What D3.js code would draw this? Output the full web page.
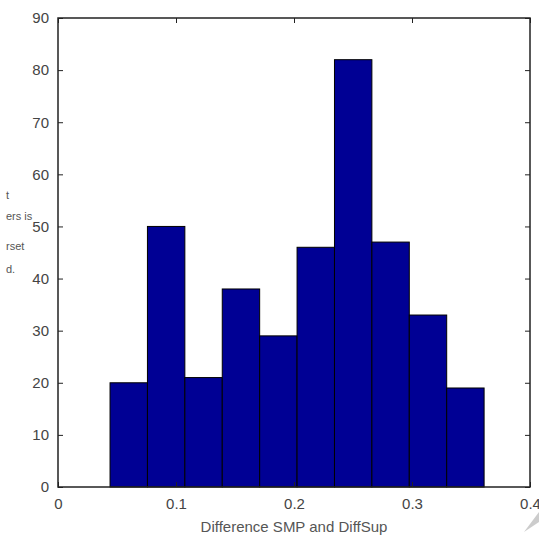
<!DOCTYPE html>
<html>
<head>
<meta charset="utf-8">
<script src="https://cdn.jsdelivr.net/npm/d3@7"></script>
<style>
  body { margin: 0; background: #fff; }
  text { font-family: "Liberation Sans", Arial, sans-serif; }
</style>
</head>
<body>
<div id="chart"></div>
<script>
'use strict';

// histogram bins (left edge of first bin, bin width) and counts
var binStart = 0.0441;
var binWidth = 0.0317;
var counts = [20, 50, 21, 38, 29, 46, 82, 47, 33, 19];
var xTicks = [0, 0.1, 0.2, 0.3, 0.4];
var xTickLabels = ["0", "0.1", "0.2", "0.3", "0.4"];
var yTicks = [0, 10, 20, 30, 40, 50, 60, 70, 80, 90];
var xLabel = "Difference SMP and DiffSup";
// bits of text from the page beside the figure, cut off at the left edge
var marginText = ["t", "ers is", "rset", "d."];
var marginY = [199, 220, 250, 273];

var W = 539, H = 537;
var pLeft = 58, pRight = 530, pTop = 18, pBottom = 487;

var svg = d3.select("#chart")
    .append("svg")
    .attr("width", W)
    .attr("height", H);

var x = d3.scaleLinear().domain([0, 0.4]).range([pLeft, pRight]);
var y = d3.scaleLinear().domain([0, 90]).range([pBottom, pTop]);

var bins = counts.map(function(c, i) {
    return {x0: binStart + i * binWidth, x1: binStart + (i + 1) * binWidth, n: c};
});

svg.selectAll("rect.bar")
    .data(bins)
    .enter()
    .append("rect")
    .attr("class", "bar")
    .attr("x", function(d) { return x(d.x0); })
    .attr("y", function(d) { return y(d.n); })
    .attr("width", function(d) { return x(d.x1) - x(d.x0); })
    .attr("height", function(d) { return y(0) - y(d.n); })
    .attr("fill", "#000094")
    .attr("stroke", "#000")
    .attr("stroke-width", 1);

// axes, ticks pointing inward like matlab
var tickStyle = function(g) {
    g.select(".domain").remove();
    g.selectAll("line").attr("stroke", "#222");
    g.selectAll("text")
        .attr("fill", "#444")
        .style("font-size", "15px");
};

svg.append("g")
    .attr("transform", "translate(0," + pBottom + ")")
    .call(d3.axisBottom(x).tickValues(xTicks)
          .tickFormat(function(d, i) { return xTickLabels[i]; })
          .tickSizeInner(-5).tickPadding(11))
    .call(tickStyle);

svg.append("g")
    .attr("transform", "translate(0," + pTop + ")")
    .call(d3.axisTop(x).tickValues(xTicks).tickFormat("").tickSizeInner(-5))
    .call(tickStyle);

svg.append("g")
    .attr("transform", "translate(" + pLeft + ",0)")
    .call(d3.axisLeft(y).tickValues(yTicks).tickSizeInner(-5).tickPadding(9))
    .call(tickStyle);

svg.append("g")
    .attr("transform", "translate(" + pRight + ",0)")
    .call(d3.axisRight(y).tickValues(yTicks).tickFormat("").tickSizeInner(-5))
    .call(tickStyle);

svg.append("rect")
    .attr("x", pLeft)
    .attr("y", pTop)
    .attr("width", pRight - pLeft)
    .attr("height", pBottom - pTop)
    .attr("fill", "none")
    .attr("stroke", "#222")
    .attr("stroke-width", 1.5);

svg.append("text")
    .attr("x", (pLeft + pRight) / 2)
    .attr("y", 532)
    .attr("text-anchor", "middle")
    .attr("fill", "#555")
    .style("font-size", "15px")
    .text(xLabel);

svg.selectAll("text.margin")
    .data(marginText)
    .enter()
    .append("text")
    .attr("class", "margin")
    .attr("x", 6)
    .attr("y", function(d, i) { return marginY[i]; })
    .attr("fill", "#555")
    .style("font-size", "11px")
    .text(function(d) { return d; });

// faint page-curl artifact bottom right
svg.append("path")
    .attr("d", "M524,532 L539,512 L539,522 Z")
    .attr("fill", "#ccc");
</script>
</body>
</html>
